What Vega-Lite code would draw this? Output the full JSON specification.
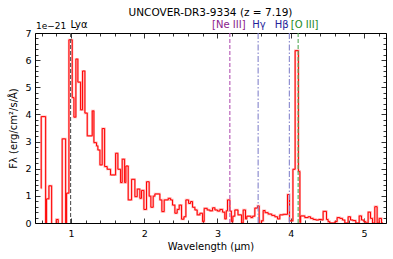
{
"$schema":"https://vega.github.io/schema/vega-lite/v6.json",
"width":351,"height":190,
"autosize":{"type":"none"},
"padding":{"left":35,"top":33,"right":7,"bottom":36},
"background":"white",
"title":{"text":"UNCOVER-DR3-9334 (z = 7.19)","font":"DejaVu Sans","fontSize":10.5,"fontWeight":"normal","color":"black","anchor":"middle","frame":"group","offset":2},
"config":{"view":{"stroke":"black","strokeWidth":1},"font":"DejaVu Sans",
"axis":{"grid":false,"domain":false,"labelFont":"DejaVu Sans","labelFontSize":9.5,"labelColor":"black","tickColor":"black","tickWidth":0.8,"titleFont":"DejaVu Sans","titleFontSize":10,"titleFontWeight":"normal","titleColor":"black"}},
"datasets":{
"spec":[{"wl":0.590,"flux":1.28},{"wl":0.595,"flux":3.92},{"wl":0.655,"flux":-0.5},{"wl":0.668,"flux":0.89},{"wl":0.700,"flux":1.37},{"wl":0.737,"flux":-0.5},{"wl":0.800,"flux":0.13},{"wl":0.827,"flux":-0.5},{"wl":0.881,"flux":3.10},{"wl":0.928,"flux":-0.5},{"wl":0.941,"flux":1.10},{"wl":0.973,"flux":6.75},{"wl":1.018,"flux":4.62},{"wl":1.041,"flux":3.90},{"wl":1.068,"flux":6.04},{"wl":1.095,"flux":5.19},{"wl":1.132,"flux":4.17},{"wl":1.159,"flux":5.60},{"wl":1.191,"flux":4.05},{"wl":1.223,"flux":3.21},{"wl":1.291,"flux":4.13},{"wl":1.314,"flux":2.96},{"wl":1.350,"flux":2.84},{"wl":1.368,"flux":2.69},{"wl":1.396,"flux":2.14},{"wl":1.427,"flux":3.48},{"wl":1.460,"flux":2.08},{"wl":1.495,"flux":1.98},{"wl":1.541,"flux":1.77},{"wl":1.610,"flux":2.57},{"wl":1.641,"flux":1.98},{"wl":1.678,"flux":1.49},{"wl":1.700,"flux":2.35},{"wl":1.733,"flux":1.49},{"wl":1.750,"flux":2.10},{"wl":1.782,"flux":0.85},{"wl":1.828,"flux":1.61},{"wl":1.873,"flux":0.97},{"wl":1.905,"flux":1.25},{"wl":1.941,"flux":0.91},{"wl":1.964,"flux":1.20},{"wl":1.996,"flux":0.50},{"wl":2.032,"flux":1.52},{"wl":2.068,"flux":0.99},{"wl":2.091,"flux":0.58},{"wl":2.123,"flux":0.99},{"wl":2.146,"flux":1.07},{"wl":2.214,"flux":0.85},{"wl":2.241,"flux":0.42},{"wl":2.273,"flux":0.85},{"wl":2.328,"flux":0.91},{"wl":2.360,"flux":0.85},{"wl":2.387,"flux":0.66},{"wl":2.419,"flux":0.36},{"wl":2.450,"flux":0.50},{"wl":2.478,"flux":0.66},{"wl":2.510,"flux":0.14},{"wl":2.542,"flux":0.23},{"wl":2.569,"flux":0.85},{"wl":2.606,"flux":0.72},{"wl":2.633,"flux":0.79},{"wl":2.660,"flux":0.58},{"wl":2.692,"flux":0.48},{"wl":2.723,"flux":0.30},{"wl":2.760,"flux":0.36},{"wl":2.797,"flux":0.05},{"wl":2.819,"flux":0.54},{"wl":2.860,"flux":0.48},{"wl":2.896,"flux":0.45},{"wl":2.933,"flux":0.56},{"wl":2.965,"flux":0.48},{"wl":3.000,"flux":0.44},{"wl":3.033,"flux":0.50},{"wl":3.070,"flux":0.40},{"wl":3.100,"flux":0.15},{"wl":3.120,"flux":0.45},{"wl":3.137,"flux":0.85},{"wl":3.169,"flux":0.44},{"wl":3.190,"flux":0.05},{"wl":3.210,"flux":0.25},{"wl":3.237,"flux":0.48},{"wl":3.280,"flux":0.30},{"wl":3.329,"flux":0.00},{"wl":3.351,"flux":0.48},{"wl":3.383,"flux":0.15},{"wl":3.400,"flux":0.25},{"wl":3.456,"flux":0.20},{"wl":3.480,"flux":0.25},{"wl":3.510,"flux":0.55},{"wl":3.547,"flux":0.63},{"wl":3.569,"flux":-0.1},{"wl":3.600,"flux":0.08},{"wl":3.624,"flux":0.46},{"wl":3.650,"flux":0.38},{"wl":3.692,"flux":0.33},{"wl":3.740,"flux":0.28},{"wl":3.783,"flux":0.23},{"wl":3.820,"flux":0.15},{"wl":3.851,"flux":0.30},{"wl":3.897,"flux":0.32},{"wl":3.956,"flux":1.05},{"wl":3.983,"flux":0.08},{"wl":4.030,"flux":1.98},{"wl":4.060,"flux":6.35},{"wl":4.105,"flux":1.90},{"wl":4.125,"flux":0.02},{"wl":4.135,"flux":0.26},{"wl":4.192,"flux":0.20},{"wl":4.237,"flux":0.23},{"wl":4.270,"flux":0.17},{"wl":4.306,"flux":0.13},{"wl":4.342,"flux":0.11},{"wl":4.383,"flux":0.13},{"wl":4.420,"flux":0.11},{"wl":4.442,"flux":0.43},{"wl":4.488,"flux":0.13},{"wl":4.510,"flux":0.05},{"wl":4.533,"flux":0.00},{"wl":4.602,"flux":0.05},{"wl":4.633,"flux":0.20},{"wl":4.670,"flux":0.17},{"wl":4.706,"flux":0.11},{"wl":4.738,"flux":0.00},{"wl":4.783,"flux":0.23},{"wl":4.816,"flux":0.11},{"wl":4.851,"flux":0.09},{"wl":4.888,"flux":0.00},{"wl":4.934,"flux":0.26},{"wl":4.966,"flux":0.11},{"wl":4.997,"flux":0.05},{"wl":5.025,"flux":0.00},{"wl":5.056,"flux":0.40},{"wl":5.089,"flux":0.17},{"wl":5.116,"flux":0.00},{"wl":5.147,"flux":0.60},{"wl":5.179,"flux":0.00},{"wl":5.206,"flux":0.17},{"wl":5.239,"flux":0.00},{"wl":5.260,"flux":0.00}],
"lines":[{"line":"Lyα","wl":0.9958,"lx":1.11},{"line":"[Ne III]","wl":3.169,"lx":3.155},{"line":"Hγ","wl":3.555,"lx":3.565},{"line":"Hβ","wl":3.981,"lx":3.875},{"line":"[O III]","wl":4.101,"lx":4.19}],
"note":[{"txt":"1e−21","x":0.51,"y":7}]
},
"layer":[
{"data":{"name":"spec"},
 "mark":{"type":"line","interpolate":"step-after","color":"#ff8080","strokeWidth":2.2,"opacity":0.6,"clip":true},
 "encoding":{
  "x":{"field":"wl","type":"quantitative","scale":{"domain":[0.51,5.3],"nice":false,"zero":false},
   "axis":{"orient":"bottom","values":[1,2,3,4,5],"tickSize":-5,"labelPadding":10,"title":"Wavelength (μm)","titlePadding":4}},
  "y":{"field":"flux","type":"quantitative","scale":{"domain":[0,7],"nice":false,"zero":false},
   "axis":{"orient":"left","values":[0,1,2,3,4,5,6,7],"tickSize":-5,"labelPadding":9,"title":"Fλ (erg/cm²/s/Å)","titlePadding":6}}}},
{"data":{"name":"spec"},
 "mark":{"type":"line","interpolate":"step-after","color":"#ff0000","strokeWidth":1,"clip":true},
 "encoding":{
  "x":{"field":"wl","type":"quantitative","axis":{"orient":"top","values":[1,2,3,4,5],"tickSize":-5,"labels":false,"title":null}},
  "y":{"field":"flux","type":"quantitative","axis":{"orient":"right","values":[0,1,2,3,4,5,6,7],"tickSize":-5,"labels":false,"title":null}}}},
{"data":{"name":"lines"},
 "mark":{"type":"rule","strokeWidth":1.1},
 "encoding":{
  "x":{"field":"wl","type":"quantitative","axis":{"orient":"bottom","values":[0.6,0.8,1.2,1.4,1.6,1.8,2.2,2.4,2.6,2.8,3.2,3.4,3.6,3.8,4.2,4.4,4.6,4.8,5.2],"tickSize":-3,"labels":false,"title":null}},
  "y":{"datum":0,"type":"quantitative","axis":{"orient":"left","values":[0.2,0.4,0.6,0.8,1.2,1.4,1.6,1.8,2.2,2.4,2.6,2.8,3.2,3.4,3.6,3.8,4.2,4.4,4.6,4.8,5.2,5.4,5.6,5.8,6.2,6.4,6.6,6.8],"tickSize":-3,"labels":false,"title":null}},
  "y2":{"datum":7},
  "color":{"field":"line","type":"nominal","scale":{"domain":["Lyα","[Ne III]","Hγ","Hβ","[O III]"],"range":["#555555","#b455b4","#8585cc","#8585cc","#55aa55"]},"legend":null},
  "strokeDash":{"field":"line","type":"nominal","scale":{"domain":["Lyα","[Ne III]","Hγ","Hβ","[O III]"],"range":[[4,2],[4,2],[6,2,1.5,2],[6,2,1.5,2],[4,2]]},"legend":null}}},
{"data":{"name":"lines"},
 "mark":{"type":"text","fontSize":10,"font":"DejaVu Sans","baseline":"alphabetic","dy":-5,"clip":false},
 "encoding":{
  "x":{"field":"lx","type":"quantitative","axis":{"orient":"top","values":[0.6,0.8,1.2,1.4,1.6,1.8,2.2,2.4,2.6,2.8,3.2,3.4,3.6,3.8,4.2,4.4,4.6,4.8,5.2],"tickSize":-3,"labels":false,"title":null}},
  "y":{"datum":7,"type":"quantitative","axis":{"orient":"right","values":[0.2,0.4,0.6,0.8,1.2,1.4,1.6,1.8,2.2,2.4,2.6,2.8,3.2,3.4,3.6,3.8,4.2,4.4,4.6,4.8,5.2,5.4,5.6,5.8,6.2,6.4,6.6,6.8],"tickSize":-3,"labels":false,"title":null}},
  "text":{"field":"line"},
  "color":{"field":"line","type":"nominal","scale":{"domain":["Lyα","[Ne III]","Hγ","Hβ","[O III]"],"range":["#000000","#8b1a8b","#22229a","#22229a","#1e8a1e"]},"legend":null}}},
{"data":{"name":"note"},
 "mark":{"type":"text","fontSize":9,"font":"DejaVu Sans","align":"left","baseline":"alphabetic","dx":1,"dy":-4,"color":"black","clip":false},
 "encoding":{
  "x":{"field":"x","type":"quantitative","axis":null},
  "y":{"field":"y","type":"quantitative","axis":null},
  "text":{"field":"txt"}}}
],
"resolve":{"axis":{"x":"independent","y":"independent"},"scale":{"color":"independent"}}
}
